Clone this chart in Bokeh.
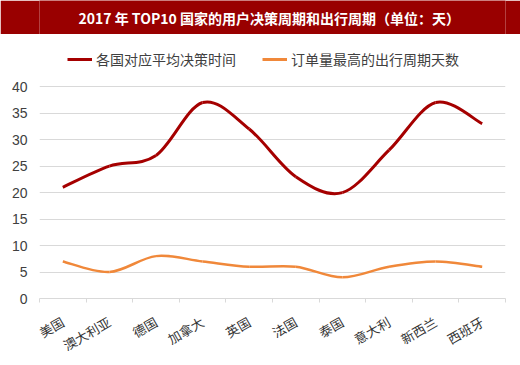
from bokeh.plotting import figure
from bokeh.layouts import column
from bokeh.models import (Range1d, FixedTicker, Legend, LegendItem, Label,
                          ColumnDataSource)
from bokeh.embed import file_html
from bokeh.resources import INLINE

title_text = "2017 年 TOP10 国家的用户决策周期和出行周期（单位：天）"
countries = ["美国", "澳大利亚", "德国", "加拿大", "英国", "法国", "泰国", "意大利", "新西兰", "西班牙"]
decision_days = [21, 25, 27, 37, 32, 23, 20, 28, 37, 33]
travel_days = [7, 5, 8, 7, 6, 6, 4, 6, 7, 6]
series_names = ["各国对应平均决策时间", "订单量最高的出行周期天数"]
series_colors = ["#A50000", "#F0883A"]
y_ticks = [0, 5, 10, 15, 20, 25, 30, 35, 40]

CJK = "Noto Sans CJK SC"
W = 520
BAND_H = 34
H = 331

# ---- title band ----
t = figure(width=W, height=BAND_H, output_backend="svg", toolbar_location=None,
           x_range=Range1d(0, 1), y_range=Range1d(0, 1),
           x_axis_location=None, y_axis_location=None,
           min_border=0)
t.outline_line_color = None
t.background_fill_color = "#990000"
t.border_fill_color = "#990000"
t.xgrid.visible = False
t.ygrid.visible = False
t.add_layout(Label(x=0.493, y=0.5, text=title_text, text_align="center",
                   text_baseline="middle", text_color="white", text_font=CJK,
                   text_font_size="14px", text_font_style="bold"))

# ---- main chart ----
p = figure(width=W, height=H, output_backend="svg", toolbar_location=None,
           x_range=Range1d(0, len(countries)), y_range=Range1d(0, 48.9),
           min_border_left=39, min_border_right=15, min_border_bottom=67,
           min_border_top=5)
p.outline_line_color = None
p.background_fill_color = "white"
p.border_fill_color = "white"

# smooth curves via bezier segments built from the data points
def bezier_source(vals):
    n = len(vals)
    xs = [i + 0.5 for i in range(n)]
    d = dict(x0=[], y0=[], x1=[], y1=[], cx0=[], cy0=[], cx1=[], cy1=[])
    for i in range(n - 1):
        ip = max(i - 1, 0)
        inn = min(i + 2, n - 1)
        d["x0"].append(xs[i]); d["y0"].append(vals[i])
        d["x1"].append(xs[i + 1]); d["y1"].append(vals[i + 1])
        d["cx0"].append(xs[i] + (xs[i + 1] - xs[ip]) / 6)
        d["cy0"].append(vals[i] + (vals[i + 1] - vals[ip]) / 6)
        d["cx1"].append(xs[i + 1] - (xs[inn] - xs[i]) / 6)
        d["cy1"].append(vals[i + 1] - (vals[inn] - vals[i]) / 6)
    return ColumnDataSource(d)

items = []
for vals, name, col, lw in [(decision_days, series_names[0], series_colors[0], 3),
                            (travel_days, series_names[1], series_colors[1], 2.5)]:
    p.bezier(x0="x0", y0="y0", x1="x1", y1="y1", cx0="cx0", cy0="cy0",
             cx1="cx1", cy1="cy1", source=bezier_source(vals),
             line_color=col, line_width=lw)
    r = p.line(x=[0.5, 1.5], y=[-100, -100], line_color=col, line_width=3)
    items.append(LegendItem(label=name, renderers=[r]))

legend = Legend(items=items, orientation="horizontal", location=(28, 229),
                label_text_font=CJK, label_text_font_size="14px",
                label_text_color="#404040", glyph_width=25, glyph_height=14,
                label_standoff=4, spacing=26, padding=2, margin=0,
                border_line_color=None, background_fill_alpha=0)
p.add_layout(legend)

# axes
xa = p.xaxis[0]
xa.ticker = FixedTicker(ticks=[i + 0.5 for i in range(len(countries))],
                        minor_ticks=list(range(len(countries) + 1)))
xa.major_label_overrides = {i + 0.5: c for i, c in enumerate(countries)}
xa.major_label_orientation = 0.52
xa.major_tick_line_color = None
xa.major_tick_out = 0
xa.minor_tick_line_color = "#d9d9d9"
xa.minor_tick_in = 0
xa.minor_tick_out = 4
xa.axis_line_color = "#d9d9d9"
xa.major_label_text_font = CJK
xa.major_label_text_font_size = "13px"
xa.major_label_text_color = "#333333"
xa.major_label_standoff = 18

ya = p.yaxis[0]
ya.ticker = FixedTicker(ticks=y_ticks)
ya.axis_line_color = None
ya.major_tick_line_color = None
ya.minor_tick_line_color = None
ya.major_tick_out = 0
ya.major_label_standoff = 12
ya.major_label_text_font = "Liberation Sans"
ya.major_label_text_font_size = "14px"
ya.major_label_text_color = "#404040"

p.xgrid.grid_line_color = None
p.ygrid.grid_line_color = "#d9d9d9"
p.ygrid.ticker = FixedTicker(ticks=y_ticks)

open("out.html", "w").write(file_html(column(t, p, spacing=0), INLINE))
